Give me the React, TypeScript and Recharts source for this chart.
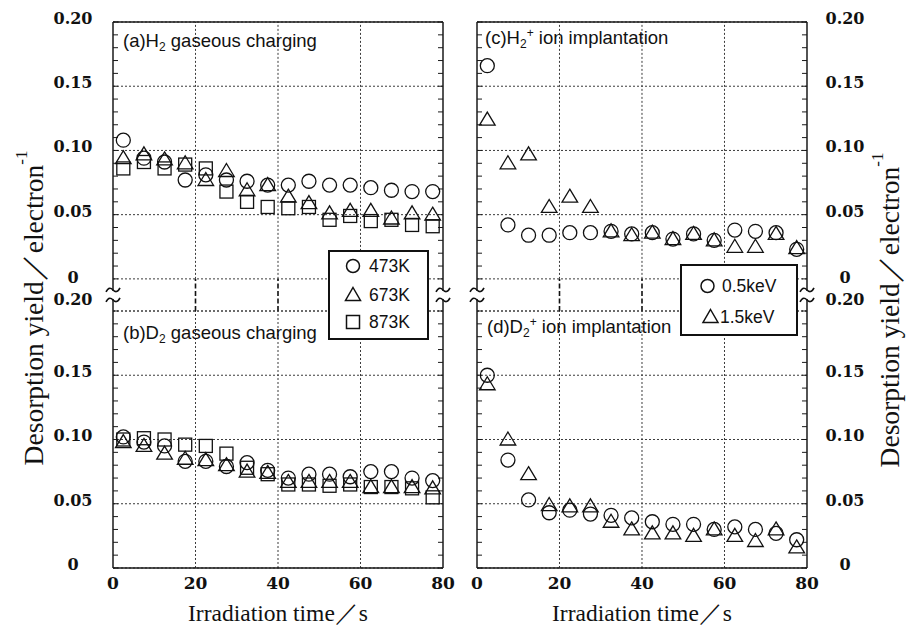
import React from 'react';
import {
  ScatterChart,
  Scatter,
  XAxis,
  YAxis,
  CartesianGrid,
  ReferenceLine,
  ReferenceDot,
} from 'recharts';

// ---------------- data ----------------
const time = [2.5, 7.5, 12.5, 17.5, 22.5, 27.5, 32.5, 37.5, 42.5, 47.5, 52.5, 57.5, 62.5, 67.5, 72.5, 77.5];

// (a) H2 gaseous charging
const aH2_473K = [0.108, 0.094, 0.091, 0.077, 0.081, 0.077, 0.076, 0.073, 0.073, 0.076, 0.073, 0.073, 0.071, 0.069, 0.068, 0.068];
const aH2_673K = [0.094, 0.097, 0.093, 0.090, 0.077, 0.084, 0.069, 0.073, 0.064, 0.059, 0.051, 0.053, 0.053, 0.047, 0.051, 0.050];
const aH2_873K = [0.086, 0.091, 0.086, 0.089, 0.086, 0.068, 0.060, 0.056, 0.055, 0.056, 0.046, 0.049, 0.045, 0.046, 0.042, 0.041];

// (b) D2 gaseous charging
const bD2_473K = [0.102, 0.098, 0.095, 0.083, 0.083, 0.079, 0.082, 0.076, 0.070, 0.073, 0.073, 0.071, 0.075, 0.075, 0.070, 0.068];
const bD2_673K = [0.098, 0.095, 0.089, 0.085, 0.084, 0.080, 0.075, 0.074, 0.067, 0.067, 0.067, 0.067, 0.063, 0.063, 0.063, 0.062];
const bD2_873K = [0.100, 0.101, 0.100, 0.096, 0.095, 0.089, 0.078, 0.073, 0.065, 0.065, 0.064, 0.065, 0.063, 0.063, 0.062, 0.055];

// (c) H2+ ion implantation
const cH2_05keV = [0.166, 0.042, 0.034, 0.034, 0.036, 0.036, 0.037, 0.035, 0.036, 0.031, 0.035, 0.030, 0.038, 0.037, 0.036, 0.023];
const cH2_15keV = [0.124, 0.090, 0.097, 0.056, 0.064, 0.056, 0.037, 0.034, 0.036, 0.031, 0.035, 0.030, 0.025, 0.025, 0.035, 0.024];

// (d) D2+ ion implantation
const dD2_05keV = [0.150, 0.084, 0.053, 0.043, 0.045, 0.042, 0.041, 0.039, 0.036, 0.034, 0.034, 0.030, 0.032, 0.030, 0.027, 0.022];
const dD2_15keV = [0.143, 0.100, 0.073, 0.049, 0.048, 0.048, 0.036, 0.030, 0.027, 0.027, 0.025, 0.030, 0.025, 0.021, 0.030, 0.016];

const xTicks = [0, 20, 40, 60, 80];
const xGrid = [20, 40, 60];
const yTicks = [0, 0.05, 0.1, 0.15, 0.2];
const minorX = Array.from({ length: 17 }, (_, i) => i * 5);
const minorY = Array.from({ length: 21 }, (_, i) => i / 100);

// ---------------- layout ----------------
const W = 916;
const H = 628;
const LEFT_X = [113, 443];
const RIGHT_X = [477, 807];
const TOP_Y = [22, 311];
const BOT_Y = [311, 568];
const GAP_MIN = -0.025;
const THIN = 0.001; // axis thickness reserved in layout (must be > 0 to render)
const FRAME = '#1a1a1a';
const GRID = '#3a3a3a';
const INK = '#111';
const SERIF_B = "'DejaVu Serif', serif";
const SERIF = "'Liberation Serif', 'Times New Roman', serif";
const SANS = "'Liberation Sans', Arial, sans-serif";

const mkPoints = (ys: number[]) => time.map((t, i) => ({ x: t, y: ys[i] }));

const Circle = (p: any) =>
  p.cx == null ? null : <circle cx={p.cx} cy={p.cy} r={7} fill="none" stroke={INK} strokeWidth={1.3} />;
const Tri = (p: any) =>
  p.cx == null ? null : (
    <polygon
      points={`${p.cx},${p.cy - 7.5} ${p.cx + 7.8},${p.cy + 5.5} ${p.cx - 7.8},${p.cy + 5.5}`}
      fill="none"
      stroke={INK}
      strokeWidth={1.3}
    />
  );
const Sq = (p: any) =>
  p.cx == null ? null : (
    <rect x={p.cx - 6.5} y={p.cy - 6.5} width={13} height={13} fill="none" stroke={INK} strokeWidth={1.3} />
  );

const EmptyTick = () => <g />;

const tilde = (cx: number, y: number) =>
  `M${cx - 7},${y + 2} C${cx - 4.5},${y - 3} ${cx - 2},${y - 2} ${cx},${y} S${cx + 4.5},${y + 3} ${cx + 7},${y - 2}`;

const BreakMark = (p: any) => {
  const { cx, cy } = p;
  if (cx == null) return null;
  return (
    <g>
      <rect x={cx - 3} y={cy - 4} width={6} height={8} fill="#fff" />
      <path d={tilde(cx, cy - 5)} fill="none" stroke={INK} strokeWidth={1.6} />
      <path d={tilde(cx, cy + 5)} fill="none" stroke={INK} strokeWidth={1.6} />
    </g>
  );
};

const fmt = (v: number) => (v === 0 ? '0' : v.toFixed(2));

const makeYTick = (side: 'left' | 'right', isTop: boolean) => (props: any) => {
  const { x, y, payload } = props;
  const v = payload.value;
  let dy = 2;
  if (isTop && v === 0) dy = 4;
  if (!isTop && v === 0.2) dy = -6;
  const tx = side === 'left' ? x - 40 : x + 38;
  return (
    <text x={tx} y={y + dy} textAnchor="middle" fontFamily={SERIF_B} fontWeight="bold" fontSize={16} fill={INK}>
      {fmt(v)}
    </text>
  );
};

const XTick = (props: any) => {
  const { x, y, payload } = props;
  return (
    <text x={x} y={y + 21} textAnchor="middle" fontFamily={SERIF_B} fontWeight="bold" fontSize={17} fill={INK}>
      {payload.value}
    </text>
  );
};

type Series = { data: number[]; shape: any; name: string };

function Panel({
  xr,
  yr,
  isTop,
  side,
  series,
}: {
  xr: number[];
  yr: number[];
  isTop: boolean;
  side: 'left' | 'right';
  series: Series[];
}) {
  const yMin = isTop ? GAP_MIN : 0;
  const margin = { left: xr[0], right: W - xr[1], top: yr[0], bottom: H - yr[1] };
  const frame = { stroke: FRAME, strokeWidth: 1.5 };
  const minorLine = { stroke: FRAME, strokeWidth: 1 };
  return (
    <div style={{ position: 'absolute', left: 0, top: 0 }}>
      <ScatterChart width={W} height={H} margin={margin}>
        <CartesianGrid vertical={false} horizontal stroke={GRID} strokeDasharray="2 2" />
        {xGrid.map((v) => (
          <ReferenceLine
            key={'v' + v}
            segment={[
              { x: v, y: 0 },
              { x: v, y: 0.2 },
            ]}
            stroke={GRID}
            strokeDasharray="2 2"
          />
        ))}
        {isTop &&
          xGrid.map((v) => (
            <ReferenceLine
              key={'g' + v}
              segment={[
                { x: v, y: GAP_MIN },
                { x: v, y: 0 },
              ]}
              stroke={INK}
              strokeWidth={1.6}
              strokeDasharray="5 2.5"
            />
          ))}

        <XAxis
          xAxisId={0}
          dataKey="x"
          type="number"
          domain={[0, 80]}
          allowDataOverflow
          hide={isTop}
          ticks={xTicks}
          interval={0}
          height={THIN}
          tickSize={0}
          tickMargin={0}
          tickLine={false}
          axisLine={frame}
          tick={XTick}
        />
        {isTop ? (
          <XAxis
            xAxisId="mt"
            type="number"
            domain={[0, 80]}
            allowDataOverflow
            orientation="top"
            mirror
            height={THIN}
            ticks={minorX}
            interval={0}
            tick={EmptyTick}
            axisLine={frame}
            tickLine={minorLine}
            tickSize={5}
          />
        ) : (
          <XAxis
            xAxisId="mb"
            type="number"
            domain={[0, 80]}
            allowDataOverflow
            orientation="bottom"
            mirror
            height={THIN}
            ticks={minorX}
            interval={0}
            tick={EmptyTick}
            axisLine={false}
            tickLine={minorLine}
            tickSize={5}
          />
        )}

        <YAxis
          yAxisId={0}
          dataKey="y"
          type="number"
          domain={[yMin, 0.2]}
          allowDataOverflow
          orientation={side}
          width={THIN}
          ticks={yTicks}
          interval={0}
          tickSize={0}
          tickMargin={0}
          tickLine={false}
          axisLine={frame}
          tick={makeYTick(side, isTop)}
        />
        <YAxis
          yAxisId="ml"
          type="number"
          domain={[yMin, 0.2]}
          allowDataOverflow
          orientation="left"
          mirror
          width={THIN}
          ticks={minorY}
          interval={0}
          tick={EmptyTick}
          axisLine={side === 'right' ? frame : false}
          tickLine={minorLine}
          tickSize={5}
        />
        <YAxis
          yAxisId="mr"
          type="number"
          domain={[yMin, 0.2]}
          allowDataOverflow
          orientation="right"
          mirror
          width={THIN}
          ticks={minorY}
          interval={0}
          tick={EmptyTick}
          axisLine={side === 'left' ? frame : false}
          tickLine={minorLine}
          tickSize={5}
        />

        {series.map((s) => (
          <Scatter key={s.name} name={s.name} data={mkPoints(s.data)} shape={s.shape} isAnimationActive={false} />
        ))}

        {isTop && <ReferenceDot x={0} y={-0.0125} r={0} shape={BreakMark} zIndex={1000} />}
        {isTop && <ReferenceDot x={80} y={-0.0125} r={0} shape={BreakMark} zIndex={1000} />}
      </ScatterChart>
    </div>
  );
}

const legTextStyle = { fontFamily: SANS, fontSize: 17.5, fill: INK } as const;
const LABEL_FS = 18.5;

export default function App() {
  return (
    <div style={{ position: 'absolute', left: 0, top: 0, width: W, height: H, background: '#fff' }}>
      <Panel
        xr={LEFT_X}
        yr={TOP_Y}
        isTop
        side="left"
        series={[
          { data: aH2_473K, shape: Circle, name: '473K' },
          { data: aH2_673K, shape: Tri, name: '673K' },
          { data: aH2_873K, shape: Sq, name: '873K' },
        ]}
      />
      <Panel
        xr={LEFT_X}
        yr={BOT_Y}
        isTop={false}
        side="left"
        series={[
          { data: bD2_473K, shape: Circle, name: '473K' },
          { data: bD2_673K, shape: Tri, name: '673K' },
          { data: bD2_873K, shape: Sq, name: '873K' },
        ]}
      />
      <Panel
        xr={RIGHT_X}
        yr={TOP_Y}
        isTop
        side="right"
        series={[
          { data: cH2_05keV, shape: Circle, name: '0.5keV' },
          { data: cH2_15keV, shape: Tri, name: '1.5keV' },
        ]}
      />
      <Panel
        xr={RIGHT_X}
        yr={BOT_Y}
        isTop={false}
        side="right"
        series={[
          { data: dD2_05keV, shape: Circle, name: '0.5keV' },
          { data: dD2_15keV, shape: Tri, name: '1.5keV' },
        ]}
      />

      <svg width={W} height={H} style={{ position: 'absolute', left: 0, top: 0, pointerEvents: 'none' }}>
        {/* panel labels */}
        <text x={123} y={46.5} fontFamily={SANS} fontSize={LABEL_FS} fill={INK}>
          (a)H<tspan dy={4} fontSize={12}>2</tspan>
          <tspan dy={-4}> gaseous charging</tspan>
        </text>
        <text x={123} y={338.5} fontFamily={SANS} fontSize={LABEL_FS} fill={INK}>
          (b)D<tspan dy={4} fontSize={12}>2</tspan>
          <tspan dy={-4}> gaseous charging</tspan>
        </text>
        <text x={485} y={43.5} fontFamily={SANS} fontSize={LABEL_FS} fill={INK}>
          (c)H<tspan dy={4} fontSize={12}>2</tspan>
          <tspan dy={-11} fontSize={12}>+</tspan>
          <tspan dy={7}> ion implantation</tspan>
        </text>
        <text x={487} y={332.5} fontFamily={SANS} fontSize={LABEL_FS} fill={INK}>
          (d)D<tspan dy={4} fontSize={12}>2</tspan>
          <tspan dy={-11} fontSize={12}>+</tspan>
          <tspan dy={7}> ion implantation</tspan>
        </text>

        {/* x titles */}
        <text x={278} y={621} textAnchor="middle" fontFamily={SERIF} fontSize={23.5} fill={INK}>
          Irradiation time／s
        </text>
        <text x={642} y={621} textAnchor="middle" fontFamily={SERIF} fontSize={23.5} fill={INK}>
          Irradiation time／s
        </text>

        {/* y titles */}
        <text
          x={33}
          y={308}
          transform="rotate(-90, 33, 308)"
          textAnchor="middle"
          dominantBaseline="central"
          fontFamily={SERIF}
          fontSize={27.5}
          fill={INK}
        >
          Desorption yield／electron<tspan dy={-12} fontSize={17}>-1</tspan>
        </text>
        <text
          x={889}
          y={310}
          transform="rotate(-90, 889, 310)"
          textAnchor="middle"
          dominantBaseline="central"
          fontFamily={SERIF}
          fontSize={27.5}
          fill={INK}
        >
          Desorption yield／electron<tspan dy={-12} fontSize={17}>-1</tspan>
        </text>

        {/* legend left */}
        <rect x={329} y={251} width={99} height={88} fill="#fff" stroke={INK} strokeWidth={2} />
        <circle cx={353} cy={266} r={6.5} fill="none" stroke={INK} strokeWidth={1.5} />
        <text x={369} y={272} {...legTextStyle}>473K</text>
        <polygon points="353,287.5 360.5,300.5 345.5,300.5" fill="none" stroke={INK} strokeWidth={1.5} />
        <text x={369} y={301} {...legTextStyle}>673K</text>
        <rect x={346.5} y={315.5} width={13} height={13} fill="none" stroke={INK} strokeWidth={1.5} />
        <text x={369} y={328} {...legTextStyle}>873K</text>

        {/* legend right */}
        <rect x={681} y={265} width={116} height={70} fill="#fff" stroke={INK} strokeWidth={2} />
        <circle cx={707.5} cy={286} r={6.5} fill="none" stroke={INK} strokeWidth={1.5} />
        <text x={722} y={292} {...legTextStyle}>0.5keV</text>
        <polygon points="710.5,309.5 718,322.5 703,322.5" fill="none" stroke={INK} strokeWidth={1.5} />
        <text x={720} y={323} {...legTextStyle}>1.5keV</text>
      </svg>
    </div>
  );
}
